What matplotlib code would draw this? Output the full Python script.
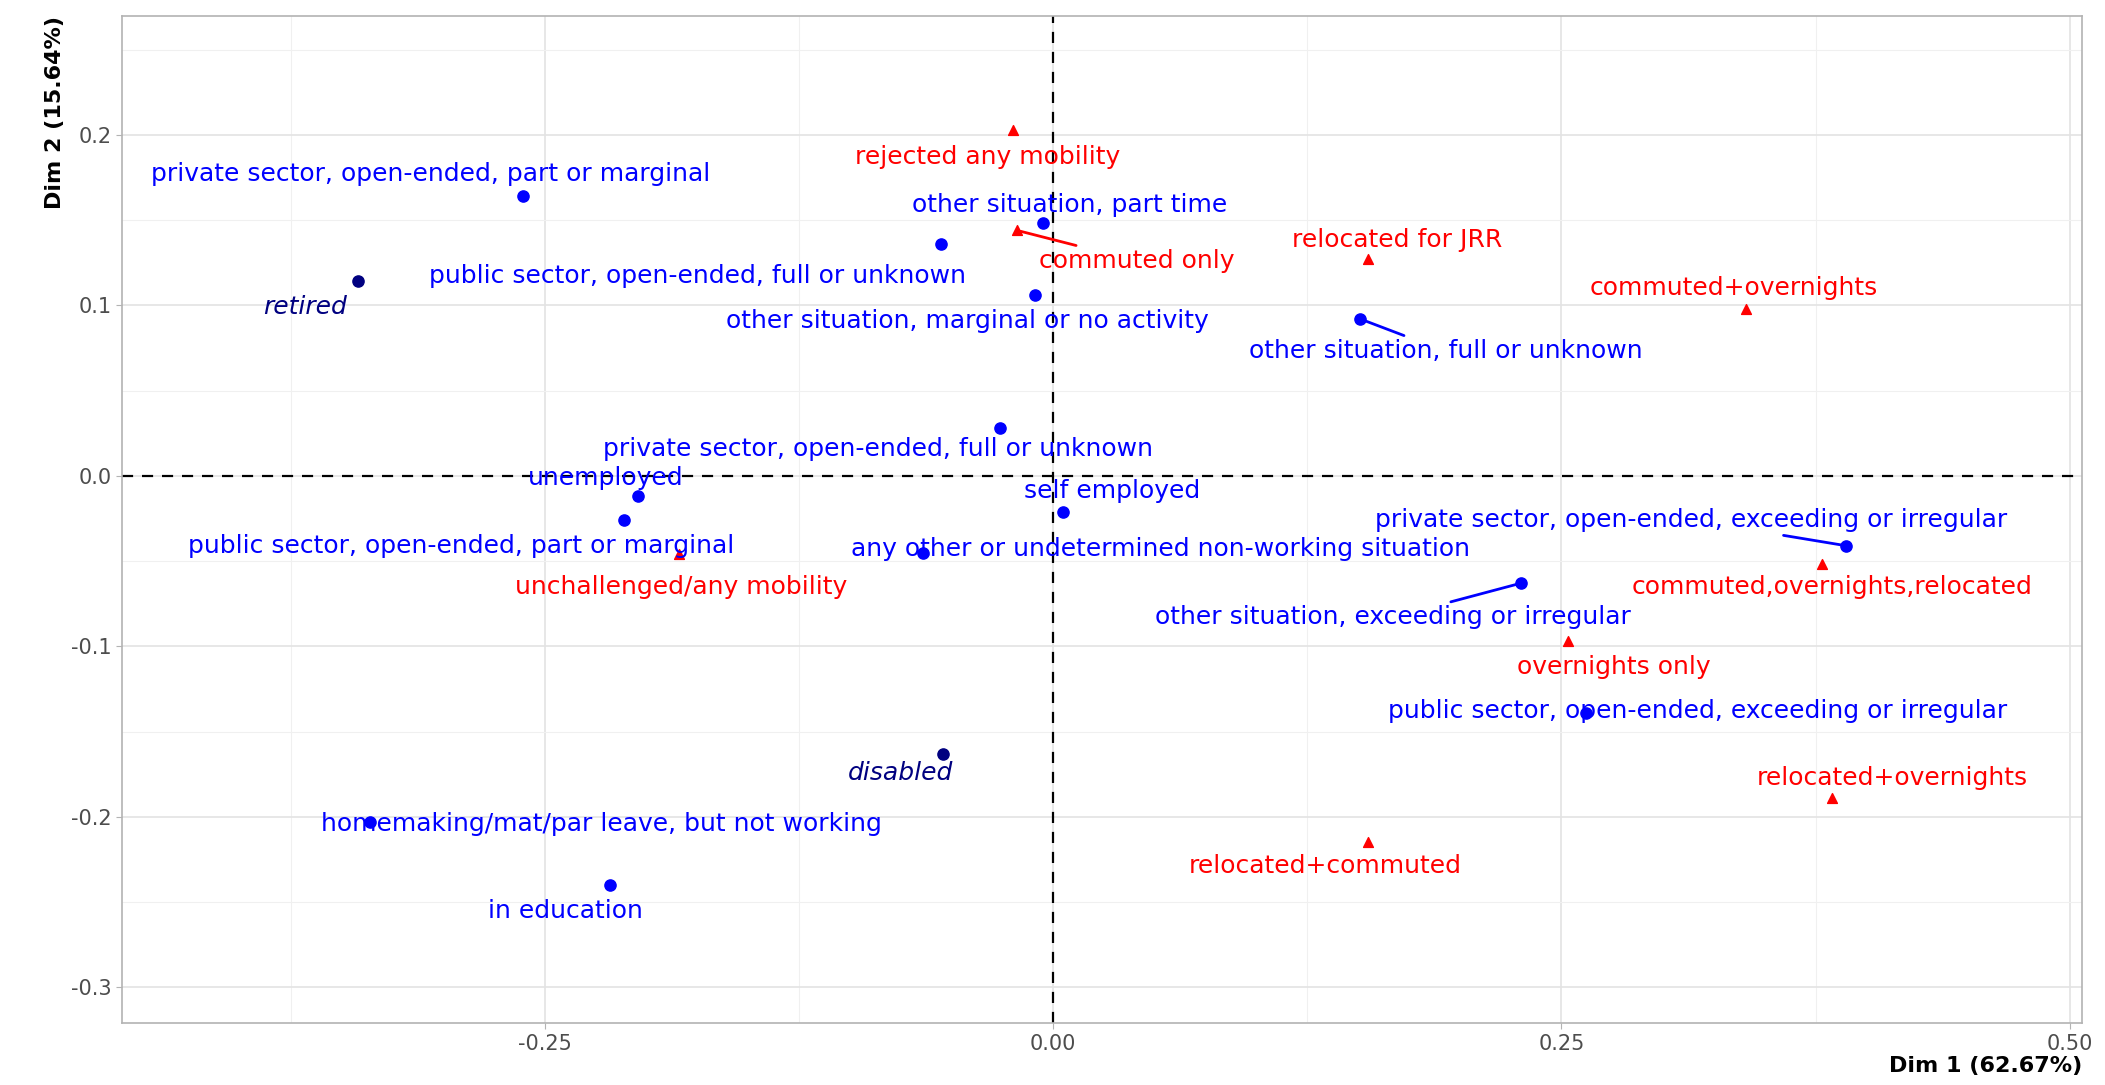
import matplotlib
matplotlib.use('Agg')
import matplotlib.pyplot as plt
from matplotlib.ticker import MultipleLocator

plt.rcParams['font.family'] = ['DejaVu Sans']

# situaciones laborales (filas)
filas = ['private sector, open-ended, part or marginal', 'retired',
         'public sector, open-ended, full or unknown', 'other situation, part time',
         'other situation, marginal or no activity', 'other situation, full or unknown',
         'private sector, open-ended, full or unknown', 'unemployed',
         'public sector, open-ended, part or marginal', 'self employed',
         'any other or undetermined non-working situation',
         'private sector, open-ended, exceeding or irregular',
         'other situation, exceeding or irregular',
         'public sector, open-ended, exceeding or irregular', 'disabled',
         'homemaking/mat/par leave, but not working', 'in education']
filas_dim1 = [-0.261, -0.342, -0.055, -0.005, -0.009, 0.151, -0.026, -0.204, -0.211,
              0.005, -0.064, 0.390, 0.230, 0.262, -0.054, -0.336, -0.218]
filas_dim2 = [0.164, 0.114, 0.136, 0.148, 0.106, 0.092, 0.028, -0.012, -0.026,
              -0.021, -0.045, -0.041, -0.063, -0.139, -0.163, -0.203, -0.240]
suplementarias = ['retired', 'disabled']

# movilidad (columnas)
columnas = ['rejected any mobility', 'commuted only', 'relocated for JRR',
            'commuted+overnights', 'unchallenged/any mobility',
            'commuted,overnights,relocated', 'overnights only',
            'relocated+overnights', 'relocated+commuted']
col_dim1 = [-0.020, -0.018, 0.155, 0.341, -0.184, 0.378, 0.253, 0.383, 0.155]
col_dim2 = [0.203, 0.144, 0.127, 0.098, -0.046, -0.052, -0.097, -0.189, -0.215]

# desplazamiento de las etiquetas (como ggrepel)
filas_off = [(-0.045, 0.013), (-0.026, -0.015), (-0.120, -0.019), (0.013, 0.011),
             (-0.033, -0.015), (0.042, -0.019), (-0.060, -0.012), (-0.016, 0.011),
             (-0.080, -0.015), (0.024, 0.012), (0.117, 0.002), (-0.076, 0.015),
             (-0.063, -0.020), (0.055, 0.001), (-0.021, -0.011), (0.114, -0.001),
             (-0.022, -0.015)]
col_off = [(-0.012, -0.016), (0.059, -0.018), (0.014, 0.011), (-0.006, 0.012),
           (0.001, -0.019), (0.005, -0.013), (0.023, -0.015), (0.030, 0.012),
           (-0.021, -0.014)]
con_segmento = ['other situation, full or unknown',
                'private sector, open-ended, exceeding or irregular',
                'other situation, exceeding or irregular', 'commuted only']

fig = plt.figure(figsize=(21.05, 10.85), dpi=100)
ax = fig.add_axes([0.058, 0.057, 0.931, 0.928])

for x, y, lab, (dx, dy) in zip(filas_dim1, filas_dim2, filas, filas_off):
    color = 'navy' if lab in suplementarias else 'blue'
    estilo = 'italic' if lab in suplementarias else 'normal'
    ax.scatter(x, y, s=65, color=color, zorder=3)
    flecha = dict(arrowstyle='-', color=color, lw=2, shrinkA=2, shrinkB=3) if lab in con_segmento else None
    ax.annotate(lab, (x, y), xytext=(x + dx, y + dy), ha='center', va='center',
                color=color, style=estilo, fontsize=18, arrowprops=flecha, zorder=4)

for x, y, lab, (dx, dy) in zip(col_dim1, col_dim2, columnas, col_off):
    ax.scatter(x, y, s=50, marker='^', color='red', zorder=3)
    flecha = dict(arrowstyle='-', color='red', lw=2, shrinkA=2, shrinkB=3) if lab in con_segmento else None
    ax.annotate(lab, (x, y), xytext=(x + dx, y + dy), ha='center', va='center',
                color='red', fontsize=18, arrowprops=flecha, zorder=4)

ax.axhline(0, color='black', linestyle='--', lw=1.6, dashes=(5, 4), zorder=2)
ax.axvline(0, color='black', linestyle='--', lw=1.6, dashes=(5, 4), zorder=2)

ax.set_xlim(-0.458, 0.506)
ax.set_ylim(-0.321, 0.2695)
ax.set_xticks([-0.25, 0.0, 0.25, 0.5])
ax.set_xticklabels(['-0.25', '0.00', '0.25', '0.50'])
ax.set_yticks([-0.3, -0.2, -0.1, 0.0, 0.1, 0.2])
ax.set_yticklabels(['-0.3', '-0.2', '-0.1', '0.0', '0.1', '0.2'])
ax.xaxis.set_minor_locator(MultipleLocator(0.125))
ax.yaxis.set_minor_locator(MultipleLocator(0.05))
ax.grid(which='major', color='#e3e3e3', lw=1.2, zorder=0)
ax.grid(which='minor', color='#f0f0f0', lw=0.8, zorder=0)
ax.set_axisbelow(True)
ax.tick_params(which='major', colors='#b3b3b3', labelcolor='#4d4d4d', labelsize=15, length=4)
ax.tick_params(which='minor', length=0)
for s in ax.spines.values():
    s.set_color('#b3b3b3')
    s.set_linewidth(1.2)

ax.set_xlabel('Dim 1 (62.67%)', fontsize=16, fontweight='bold', loc='right', labelpad=2)
ax.set_ylabel('Dim 2 (15.64%)', fontsize=16, fontweight='bold', loc='top', labelpad=4)

fig.savefig('out.png', dpi=100)
